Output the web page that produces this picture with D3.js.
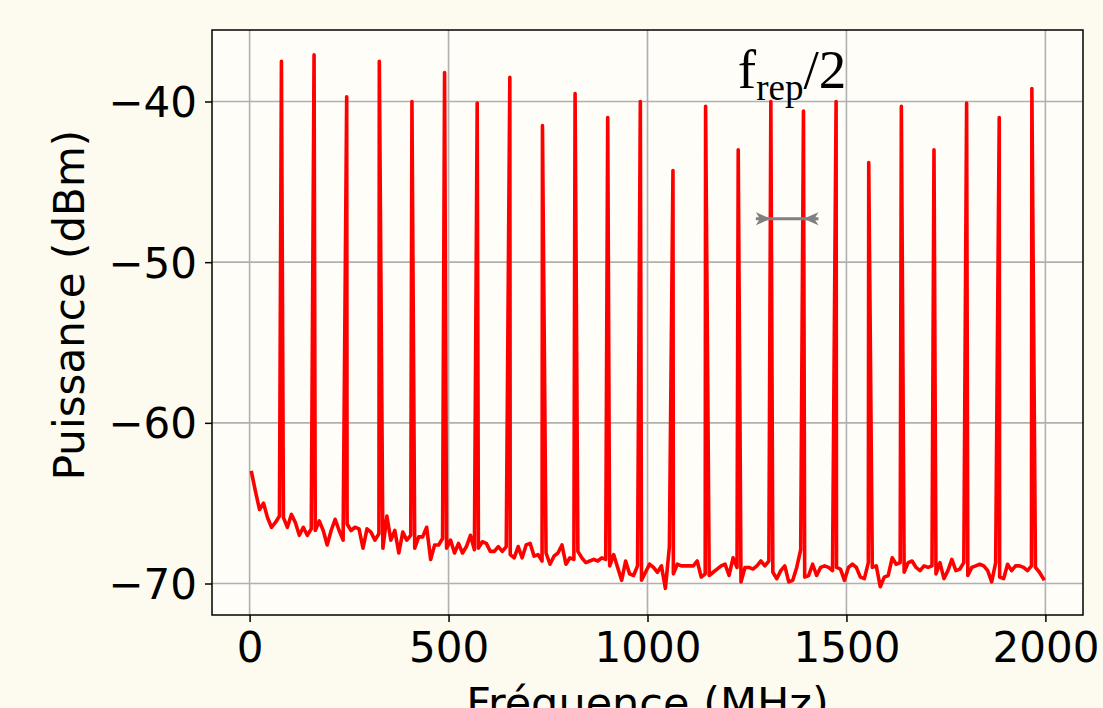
<!DOCTYPE html>
<html>
<head>
<meta charset="utf-8">
<script src="https://cdn.jsdelivr.net/npm/d3@7"></script>
<style>
  html, body { margin: 0; padding: 0; background: #fdfbf0; overflow: hidden; }
  svg { display: block; }
</style>
</head>
<body>
<svg id="chart" width="1103" height="708"></svg>
<script>
// ---------------- data ----------------
// noise floor sampled every 10 MHz starting at 5 MHz
const noiseStartMHz = 5;
const noiseStepMHz = 10;
const noiseLevels = [
  -63.1,-64.3,-65.4,-65.0,-65.9,-66.5,-66.2,-65.8,-65.9,-66.5,
  -65.7,-66.2,-67.0,-66.5,-67.0,-66.6,-66.7,-66.1,-66.7,-67.6,
  -66.7,-66.0,-66.7,-67.3,-66.3,-66.7,-66.5,-66.6,-67.8,-66.6,
  -66.8,-67.3,-66.9,-67.8,-65.8,-67.3,-66.7,-68.1,-66.8,-67.3,
  -67.0,-67.8,-67.1,-67.1,-66.5,-68.5,-67.6,-67.6,-67.2,-67.8,
  -67.3,-68.1,-67.5,
  -68.1,-67.7,-67.0,-67.9,-67.8,-67.4,-67.5,-68.0,-68.0,-67.7,
  -68.0,-67.7,-68.2,-68.4,-67.7,-68.4,-67.6,-67.5,-68.3,-68.2,
  -68.6,-68.1,-68.8,-68.3,-68.1,-67.6,-68.8,-68.4,-68.5,-68.0,
  -68.4,-68.7,-68.6,-68.5,-68.6,-68.4,-68.5,-68.9,-68.2,-69.0,
  -69.8,-68.6,-69.4,-69.5,-68.9,-69.8,-69.3,-68.8,-69.0,-69.3,
  -68.9,-70.3,-67.7,
  -69.4,-68.8,-68.9,-68.9,-68.9,-68.9,-68.6,-69.6,-69.4,-69.5,
  -69.3,-69.1,-68.9,-68.8,-69.5,-68.4,-69.0,-69.9,-69.0,-69.0,
  -69.1,-68.9,-68.6,-68.9,-68.6,-69.3,-69.7,-69.2,-68.9,-69.9,
  -69.8,-69.0,-67.9,-69.6,-69.5,-68.8,-69.5,-69.0,-68.9,-69.0,
  -69.2,-69.0,-69.1,-69.8,-69.0,-68.8,-69.0,-69.6,-69.7,-68.7,
  -69.0,-68.9,-70.2,
  -69.6,-69.5,-68.4,-68.8,-68.7,-69.3,-68.7,-68.6,-69.0,-69.2,
  -68.9,-69.0,-68.9,-69.4,-68.7,-69.7,-69.2,-68.5,-69.2,-69.1,
  -68.7,-69.5,-69.0,-68.9,-68.8,-68.9,-69.2,-69.9,-68.7,-69.6,
  -69.7,-68.8,-69.2,-68.9,-68.9,-69.0,-69.2,-68.9,-69.0,-69.3,
  -69.7
];
// comb lines (MHz, dBm)
const peakFreqs = [80,162,244,326,408,490,572,654,736,818,900,982,
                   1064,1146,1228,1310,1392,1474,1556,1638,1720,1802,1884,1966];
const peakLevels = [-37.5,-37.1,-39.7,-37.5,-40.0,-38.2,-40.1,-38.5,-41.5,-39.5,-41.0,-40.0,
                    -44.3,-40.3,-43.0,-40.0,-40.6,-40.0,-43.8,-40.3,-43.0,-40.1,-41.0,-39.2];
// axis ticks
const xTicks = [0, 500, 1000, 1500, 2000];
const yTicks = [-70, -60, -50, -40];
const xLabel = "Fréquence (MHz)";
const yLabel = "Puissance (dBm)";
// annotation: half repetition rate between two comb lines
const arrowFromMHz = 1310, arrowToMHz = 1392, arrowLevel = -47.3;
const annotText = { main: "f", sub: "rep", tail: "/2" };
const annotMHz = 1227, annotLevel = -39.15;

// ---------------- layout ----------------
const W = 1103, H = 708;
const plot = { left: 212, right: 1083, top: 30, bottom: 615 };
const bgFig = "#fdfbf0", bgAx = "#fffdf7";
const fontSans = "'DejaVu Sans', sans-serif";
const fs = 42;

const svg = d3.select("#chart");
svg.append("rect").attr("width", W).attr("height", H).attr("fill", bgFig);

const x = d3.scaleLinear().domain([-94.5, 2094.5]).range([plot.left, plot.right]);
const y = d3.scaleLinear().domain([-71.96, -35.55]).range([plot.bottom, plot.top]);

svg.append("rect")
  .attr("x", plot.left).attr("y", plot.top)
  .attr("width", plot.right - plot.left).attr("height", plot.bottom - plot.top)
  .attr("fill", bgAx);

// grid
const grid = svg.append("g").attr("stroke", "#b0b0b0").attr("stroke-width", 1.6);
grid.selectAll("line.gx").data(xTicks).join("line")
  .attr("x1", d => x(d)).attr("x2", d => x(d))
  .attr("y1", plot.top).attr("y2", plot.bottom);
grid.selectAll("line.gy").data(yTicks).join("line")
  .attr("x1", plot.left).attr("x2", plot.right)
  .attr("y1", d => y(d)).attr("y2", d => y(d));

// series
const pts = noiseLevels.map((v, i) => ({ f: noiseStartMHz + i * noiseStepMHz, p: v }))
  .concat(peakFreqs.map((f, i) => ({ f: f, p: peakLevels[i] })))
  .sort((a, b) => a.f - b.f);

svg.append("defs").append("clipPath").attr("id", "clip")
  .append("rect").attr("x", plot.left).attr("y", plot.top)
  .attr("width", plot.right - plot.left).attr("height", plot.bottom - plot.top);

svg.append("path")
  .datum(pts)
  .attr("clip-path", "url(#clip)")
  .attr("fill", "none")
  .attr("stroke", "#ff0000")
  .attr("stroke-width", 3.6)
  .attr("stroke-linejoin", "round")
  .attr("stroke-linecap", "square")
  .attr("d", d3.line().x(d => x(d.f)).y(d => y(d.p)));

// axes
const xAxis = d3.axisBottom(x).tickValues(xTicks).tickSize(7).tickPadding(8)
  .tickFormat(d3.format("d"));
const yAxis = d3.axisLeft(y).tickValues(yTicks).tickSize(7).tickPadding(8)
  .tickFormat(d => (d < 0 ? "\u2212" + Math.abs(d) : String(d)));

const gx = svg.append("g").attr("transform", `translate(0,${plot.bottom})`).call(xAxis);
const gy = svg.append("g").attr("transform", `translate(${plot.left},0)`).call(yAxis);
[gx, gy].forEach(g => {
  g.select(".domain").remove();
  g.selectAll(".tick line").attr("stroke", "#000").attr("stroke-width", 1.5);
  g.selectAll(".tick text").attr("fill", "#000")
    .attr("font-family", fontSans).attr("font-size", fs);
});
gx.selectAll(".tick text").attr("dy", "0.76em");
gy.selectAll(".tick text").attr("dy", "0.36em");

// frame
svg.append("rect")
  .attr("x", plot.left).attr("y", plot.top)
  .attr("width", plot.right - plot.left).attr("height", plot.bottom - plot.top)
  .attr("fill", "none").attr("stroke", "#000").attr("stroke-width", 1.5);

// axis labels (bottom label is cut by the page edge, as in the original)
svg.append("text")
  .attr("x", (plot.left + plot.right) / 2).attr("y", 718)
  .attr("text-anchor", "middle")
  .attr("font-family", fontSans).attr("font-size", fs + 1).attr("fill", "#000")
  .text(xLabel);
svg.append("text")
  .attr("transform", `translate(84,${305}) rotate(-90)`)
  .attr("text-anchor", "middle")
  .attr("font-family", fontSans).attr("font-size", fs).attr("fill", "#000")
  .text(yLabel);

// annotation arrow
const ay = y(arrowLevel);
const x1 = x(arrowFromMHz), x2 = x(arrowToMHz);
const headL = 15, headW = 6.5, notch = 4;
svg.append("line")
  .attr("x1", x1 - headL).attr("x2", x2 + headL)
  .attr("y1", ay).attr("y2", ay)
  .attr("stroke", "#808080").attr("stroke-width", 3);
svg.append("path")
  .attr("fill", "#808080")
  .attr("d", `M${x1},${ay} L${x1 - headL},${ay - headW} L${x1 - headL + notch},${ay} L${x1 - headL},${ay + headW} Z`);
svg.append("path")
  .attr("fill", "#808080")
  .attr("d", `M${x2},${ay} L${x2 + headL},${ay - headW} L${x2 + headL - notch},${ay} L${x2 + headL},${ay + headW} Z`);

// annotation text
const t = svg.append("text")
  .attr("x", x(annotMHz)).attr("y", y(annotLevel))
  .attr("font-family", "'Liberation Serif', 'Times New Roman', serif")
  .attr("font-size", 55).attr("fill", "#000");
t.append("tspan").text(annotText.main);
t.append("tspan").attr("font-size", 37).attr("dy", 12).text(annotText.sub);
t.append("tspan").attr("dy", -12).text(annotText.tail);
</script>
</body>
</html>
